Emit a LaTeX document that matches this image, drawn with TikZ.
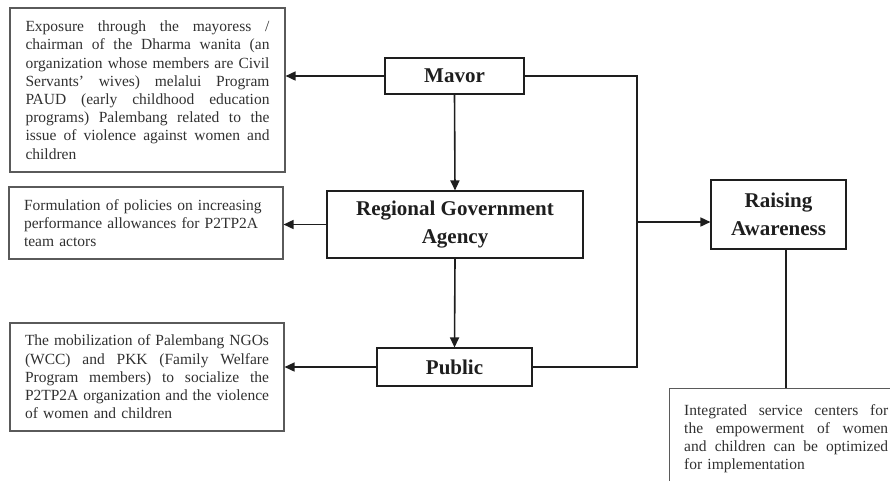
\documentclass[tikz,border=0pt]{standalone}
\usepackage{fontspec}
\setmainfont{Liberation Serif}
\usetikzlibrary{arrows.meta,calc}
\definecolor{txt}{HTML}{303030}
\definecolor{bord}{HTML}{5A5A5A}
\definecolor{lin}{HTML}{1E1E1E}
\newcommand{\myjust}[1]{{\spaceskip=0pt\xspaceskip=0pt\makebox[244pt][s]{#1}}}
\newcommand{\myjustb}[1]{{\spaceskip=0pt\xspaceskip=0pt\makebox[204pt][s]{#1}}}
\tikzset{
  smallbox/.style={draw=bord, line width=1.1pt, inner sep=0pt, align=left, text=txt,
    font=\fontsize{15.5}{18.2}\selectfont},
  mainbox/.style={draw=lin, line width=1.1pt, inner sep=0pt, align=center, text=lin,
    font=\fontsize{21}{27.5}\selectfont\bfseries},
  plain/.style={inner sep=0pt, align=left, text=txt, font=\fontsize{15.5}{18.2}\selectfont},
  conn/.style={draw=lin, line width=1.6pt},
  arr/.style={conn, -{Triangle[length=10pt,width=9pt]}}
}
\begin{document}
\begin{tikzpicture}[x=1pt,y=-1pt]
\useasboundingbox (0,0) rectangle (890,480);
% side text boxes
\node[smallbox, minimum width=275pt, minimum height=164pt, text width=244pt] (b1) at (147.5,90)
 {\myjust{Exposure through the mayoress /}\\
  \myjust{chairman of the Dharma wanita (an}\\
  \myjust{organization whose members are Civil}\\
  \myjust{Servants' wives) melalui Program}\\
  \myjust{PAUD (early childhood education}\\
  \myjust{programs) Palembang related to the}\\
  \myjust{issue of violence against women and}\\
  children};
\node[smallbox, minimum width=274pt, minimum height=72pt, text width=244pt] (b2) at (146,223)
 {Formulation of policies on increasing\\
  performance allowances for P2TP2A\\
  team actors};
\node[smallbox, minimum width=274pt, minimum height=108pt, text width=244pt] (b3) at (147,377)
 {\myjust{The mobilization of Palembang NGOs}\\
  \myjust{(WCC) and PKK (Family Welfare}\\
  \myjust{Program members) to socialize the}\\
  \myjust{P2TP2A organization and the violence}\\
  of women and children};
% main boxes
\node[mainbox, minimum width=139pt, minimum height=36pt] (mayor) at (454.5,76) {Mavor};
\node[mainbox, minimum width=256pt, minimum height=67pt] (rga) at (455,224.5) {Regional Government\\Agency};
\node[mainbox, minimum width=155pt, minimum height=38pt] (public) at (454.5,367) {Public};
\node[mainbox, minimum width=135pt, minimum height=69pt] (ra) at (778.5,214.5) {Raising\\Awareness};
% bottom right box
\node[draw=bord, line width=1.1pt, inner sep=0pt, anchor=north west, minimum width=250pt, minimum height=120pt] (b4) at (669,388) {};
\node[plain, anchor=north west, text width=204pt] (t4) at (684,404)
 {\myjustb{Integrated service centers for}\\
  \myjustb{the empowerment of women}\\
  \myjustb{and children can be optimized}\\
  for implementation};
% connectors
\coordinate (jr) at (637,0);
\coordinate (c4) at (786,0);
\draw[arr] (mayor.west) -- (mayor.west -| b1.east);
\draw[arr] (mayor.south) -- (rga.north);
\draw[arr] (rga.west) -- (rga.west -| b2.east);
\draw[arr] (rga.south) -- (public.north);
\draw[arr] (public.west) -- (public.west -| b3.east);
\draw[conn] (mayor.east) -| (jr |- public.east) -- (public.east);
\draw[arr] (jr |- 0,222) -- (ra.west |- 0,222);
\draw[conn] (c4 |- ra.south) -- (c4 |- b4.north);
\end{tikzpicture}
\end{document}
